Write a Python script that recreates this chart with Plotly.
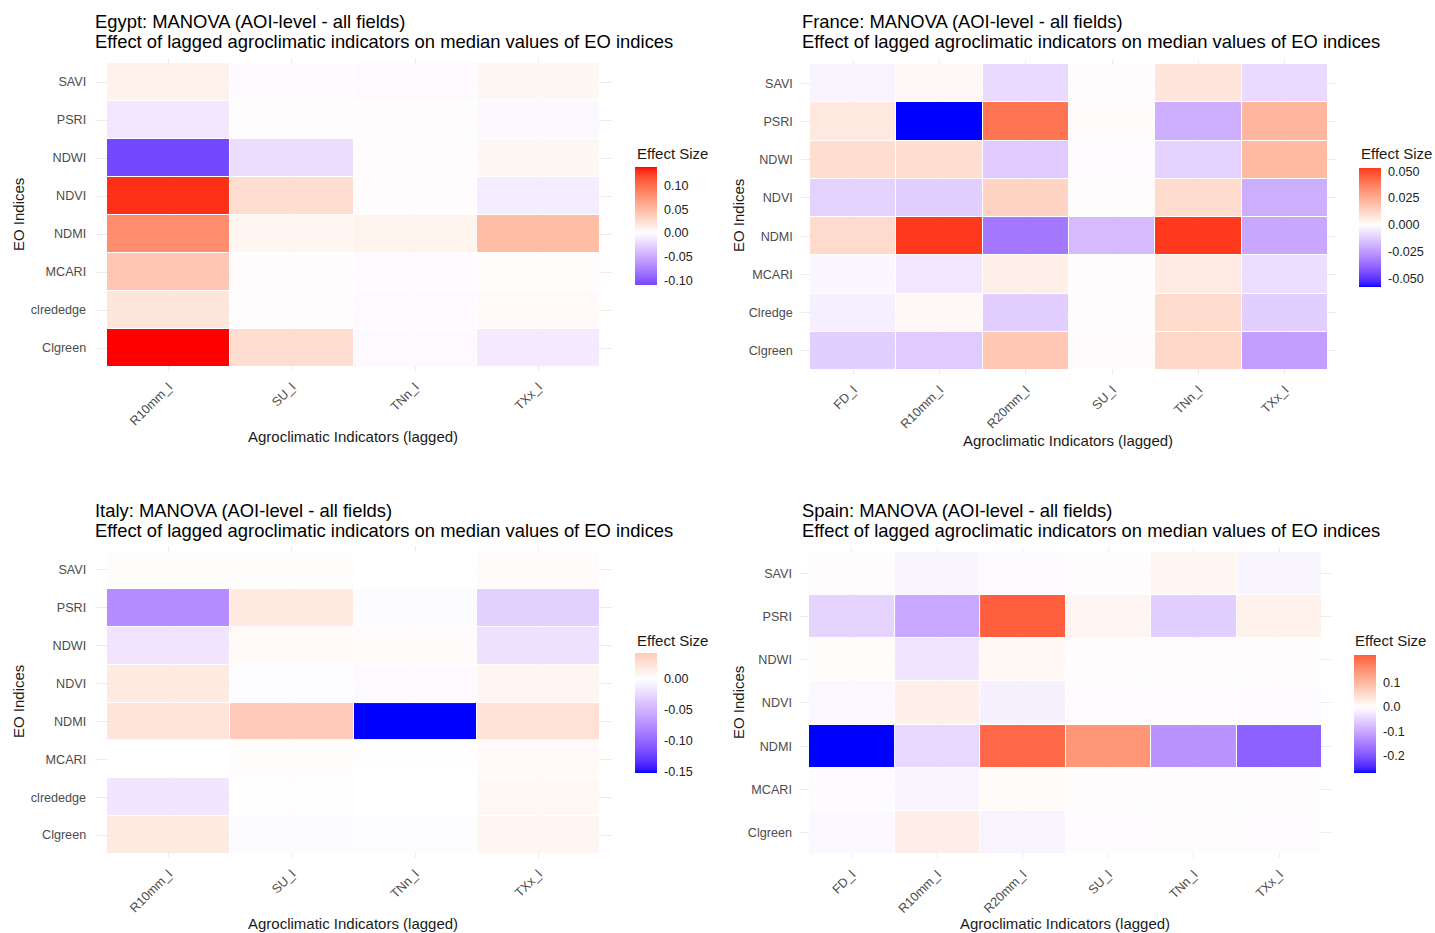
import plotly.graph_objects as go

W, H = 1435, 933

# ---------------- data ----------------
egypt_cols = ["R10mm_l", "SU_l", "TNn_l", "TXx_l"]
egypt_rows = ["SAVI", "PSRI", "NDWI", "NDVI", "NDMI", "MCARI", "clrededge", "Clgreen"]
egypt_vals = [
    [0.010, -0.002, -0.003, 0.006],
    [-0.014, 0.001, 0.000, -0.004],
    [-0.110, -0.020, 0.001, 0.006],
    [0.130, 0.025, 0.001, -0.011],
    [0.081, 0.007, 0.009, 0.048],
    [0.041, 0.000, -0.002, 0.002],
    [0.018, 0.001, -0.003, 0.004],
    [0.139, 0.025, -0.003, -0.012],
]
egypt_ticks = [-0.10, -0.05, 0.00, 0.05, 0.10]

france_cols = ["FD_l", "R10mm_l", "R20mm_l", "SU_l", "TNn_l", "TXx_l"]
france_rows = ["SAVI", "PSRI", "NDWI", "NDVI", "NDMI", "MCARI", "Clredge", "Clgreen"]
france_vals = [
    [-0.003, 0.002, -0.009, 0.000, 0.008, -0.009],
    [0.007, -0.058, 0.040, 0.001, -0.020, 0.022],
    [0.010, 0.010, -0.013, -0.0005, -0.011, 0.021],
    [-0.011, -0.012, 0.013, 0.000, 0.011, -0.020],
    [0.011, 0.053, -0.034, -0.017, 0.053, -0.022],
    [-0.002, -0.006, 0.005, 0.000, 0.006, -0.008],
    [-0.004, 0.002, -0.012, 0.000, 0.011, -0.012],
    [-0.012, -0.013, 0.017, 0.0005, 0.012, -0.024],
]
france_ticks = [-0.050, -0.025, 0.000, 0.025, 0.050]

italy_cols = ["R10mm_l", "SU_l", "TNn_l", "TXx_l"]
italy_rows = ["SAVI", "PSRI", "NDWI", "NDVI", "NDMI", "MCARI", "clrededge", "Clgreen"]
italy_vals = [
    [0.002, 0.002, 0.000, 0.003],
    [-0.075, 0.018, -0.003, -0.031],
    [-0.018, 0.004, 0.003, -0.020],
    [0.017, -0.002, -0.004, 0.008],
    [0.022, 0.042, -0.153, 0.024],
    [0.000, 0.002, 0.001, 0.004],
    [-0.017, 0.001, 0.000, 0.005],
    [0.017, -0.003, -0.002, 0.008],
]
italy_ticks = [-0.15, -0.10, -0.05, 0.00]

spain_cols = ["FD_l", "R10mm_l", "R20mm_l", "SU_l", "TNn_l", "TXx_l"]
spain_rows = ["SAVI", "PSRI", "NDWI", "NDVI", "NDMI", "MCARI", "Clgreen"]
spain_vals = [
    [0.000, -0.012, -0.006, 0.000, 0.013, -0.012],
    [-0.050, -0.100, 0.212, 0.012, -0.055, 0.020],
    [0.004, -0.030, 0.010, 0.001, 0.000, 0.001],
    [-0.008, 0.022, -0.018, -0.001, -0.001, -0.005],
    [-0.270, -0.045, 0.200, 0.145, -0.125, -0.185],
    [-0.005, -0.012, 0.006, 0.001, 0.001, 0.001],
    [-0.008, 0.025, -0.014, -0.001, 0.001, -0.001],
]
spain_ticks = [-0.2, -0.1, 0.0, 0.1]

countries = ["Egypt", "France", "Italy", "Spain"]

# ---------------- colour ramp (ggplot2 gradient2 in Lab space) ----------------
def _lin(c):
    return c / 12.92 if c <= 0.04045 else ((c + 0.055) / 1.055) ** 2.4

def _gam(c):
    c = max(0.0, min(1.0, c))
    return 12.92 * c if c <= 0.0031308 else 1.055 * c ** (1 / 2.4) - 0.055

WX, WY, WZ = 0.95047, 1.0, 1.08883

def rgb_to_lab(rgb):
    r, g, b = [_lin(v / 255) for v in rgb]
    X = 0.4124 * r + 0.3576 * g + 0.1805 * b
    Y = 0.2126 * r + 0.7152 * g + 0.0722 * b
    Z = 0.0193 * r + 0.1192 * g + 0.9505 * b
    def f(t):
        return t ** (1 / 3) if t > 0.008856 else 7.787 * t + 16 / 116
    fx, fy, fz = f(X / WX), f(Y / WY), f(Z / WZ)
    return (116 * fy - 16, 500 * (fx - fy), 200 * (fy - fz))

def lab_to_rgb(lab):
    L, a, b = lab
    fy = (L + 16) / 116
    fx = fy + a / 500
    fz = fy - b / 200
    def finv(t):
        return t ** 3 if t ** 3 > 0.008856 else (t - 16 / 116) / 7.787
    X, Y, Z = WX * finv(fx), WY * finv(fy), WZ * finv(fz)
    r = 3.2406 * X - 1.5372 * Y - 0.4986 * Z
    g = -0.9689 * X + 1.8758 * Y + 0.0415 * Z
    bb = 0.0557 * X - 0.2040 * Y + 1.0570 * Z
    return tuple(int(round(_gam(c) * 255)) for c in (r, g, bb))

LOW = rgb_to_lab((0, 0, 255))
MID = rgb_to_lab((255, 255, 255))
HIGH = rgb_to_lab((255, 0, 0))

def ramp(r):
    r = max(0.0, min(1.0, r))
    if r < 0.5:
        t = r / 0.5
        a, b = LOW, MID
    else:
        t = (r - 0.5) / 0.5
        a, b = MID, HIGH
    lab = tuple(a[i] + (b[i] - a[i]) * t for i in range(3))
    return "rgb(%d,%d,%d)" % lab_to_rgb(lab)

def make_scale(zmin, zmax, n=61):
    M = max(abs(zmin), abs(zmax))
    out = []
    for i in range(n):
        s = i / (n - 1)
        v = zmin + s * (zmax - zmin)
        out.append([s, ramp(v / (2 * M) + 0.5)])
    return out

# ---------------- layout geometry (pixels) ----------------
FONT = "Liberation Sans, Arial, sans-serif"
TITLE_SIZE = 18.4
AXTITLE_SIZE = 15
TICK_SIZE = 12.6
geo = {
    "Egypt": dict(tx=(107, 600), ty=(63, 367), cb=(635, 167, 285), cbt=(635, 153),
                  title=(93, 22), xt=(353, 436), yt=(18, 215)),
    "France": dict(tx=(810, 1328), ty=(64, 370), cb=(1359, 168, 287), cbt=(1359, 153),
                   title=(800, 22), xt=(1068, 440), yt=(738, 215)),
    "Italy": dict(tx=(107, 600), ty=(551, 854), cb=(635, 653, 773), cbt=(635, 640),
                  title=(93, 510), xt=(353, 923), yt=(18, 702)),
    "Spain": dict(tx=(809, 1322), ty=(552, 854), cb=(1354, 655, 773), cbt=(1353, 640),
                  title=(800, 510), xt=(1065, 923), yt=(738, 702)),
}
data = {
    "Egypt": (egypt_cols, egypt_rows, egypt_vals, egypt_ticks, 2),
    "France": (france_cols, france_rows, france_vals, france_ticks, 3),
    "Italy": (italy_cols, italy_rows, italy_vals, italy_ticks, 2),
    "Spain": (spain_cols, spain_rows, spain_vals, spain_ticks, 1),
}

fig = go.Figure()
annotations = []
layout_axes = {}

for i, name in enumerate(countries, start=1):
    cols, rows, vals, ticks, dec = data[name]
    g = geo[name]
    nc, nr = len(cols), len(rows)
    cw = (g["tx"][1] - g["tx"][0]) / nc
    rh = (g["ty"][1] - g["ty"][0]) / nr
    px0, px1 = g["tx"][0] - 0.1 * cw, g["tx"][1] + 0.1 * cw
    py0, py1 = g["ty"][0] - 0.1 * rh, g["ty"][1] + 0.1 * rh

    flat = [v for r in vals for v in r]
    zmin, zmax = min(flat), max(flat)

    xa = "x" if i == 1 else "x%d" % i
    ya = "y" if i == 1 else "y%d" % i
    cbx, cby0, cby1 = g["cb"]

    fig.add_trace(go.Heatmap(
        x=cols, y=rows, z=vals, xaxis=xa, yaxis=ya,
        zmin=zmin, zmax=zmax, colorscale=make_scale(zmin, zmax),
        xgap=1, ygap=1, hoverongaps=False,
        colorbar=dict(
            x=cbx / W, xanchor="left", y=1 - cby0 / H, yanchor="top",
            len=cby1 - cby0, lenmode="pixels", thickness=22, thicknessmode="pixels",
            xpad=0, ypad=0, outlinewidth=0,
            tickvals=ticks, ticktext=[("%." + str(dec) + "f") % t for t in ticks],
            ticks="outside", ticklen=5, tickcolor="rgba(0,0,0,0)", tickwidth=1,
            tickfont=dict(family=FONT, size=TICK_SIZE, color="#222222"),
        ),
    ))

    xkey = "xaxis" if i == 1 else "xaxis%d" % i
    ykey = "yaxis" if i == 1 else "yaxis%d" % i
    layout_axes[xkey] = dict(
        domain=[px0 / W, px1 / W], anchor=ya, type="category",
        categoryorder="array", categoryarray=cols,
        range=[-0.6, nc - 0.4], showgrid=True, gridcolor="#EBEBEB", gridwidth=1.1,
        zeroline=False, showline=False, ticks="outside", ticklen=3,
        tickcolor="rgba(0,0,0,0)", tickangle=-45,
        tickfont=dict(family=FONT, size=TICK_SIZE, color="#4D4D4D"), fixedrange=True,
    )
    layout_axes[ykey] = dict(
        domain=[1 - py1 / H, 1 - py0 / H], anchor=xa, type="category",
        categoryorder="array", categoryarray=rows,
        range=[nr - 0.4, -0.6], showgrid=True, gridcolor="#EBEBEB", gridwidth=1.1,
        zeroline=False, showline=False, ticks="outside", ticklen=5,
        tickcolor="rgba(0,0,0,0)",
        tickfont=dict(family=FONT, size=TICK_SIZE, color="#4D4D4D"), fixedrange=True,
    )

    tx, ty = g["title"]
    annotations.append(dict(
        text="%s: MANOVA (AOI-level - all fields)" % name,
        x=tx / W, y=1 - ty / H, xref="paper", yref="paper",
        xanchor="left", yanchor="middle", showarrow=False,
        font=dict(family=FONT, size=TITLE_SIZE, color="black")))
    annotations.append(dict(
        text="Effect of lagged agroclimatic indicators on median values of EO indices",
        x=tx / W, y=1 - (ty + 20) / H, xref="paper", yref="paper",
        xanchor="left", yanchor="middle", showarrow=False,
        font=dict(family=FONT, size=TITLE_SIZE, color="black")))
    xtx, xty = g["xt"]
    annotations.append(dict(
        text="Agroclimatic Indicators (lagged)", x=xtx / W, y=1 - xty / H,
        xref="paper", yref="paper", xanchor="center", yanchor="middle",
        showarrow=False, font=dict(family=FONT, size=AXTITLE_SIZE, color="#1a1a1a")))
    ytx, yty = g["yt"]
    annotations.append(dict(
        text="EO Indices", x=ytx / W, y=1 - yty / H, textangle=-90,
        xref="paper", yref="paper", xanchor="center", yanchor="middle",
        showarrow=False, font=dict(family=FONT, size=AXTITLE_SIZE, color="#1a1a1a")))
    cx, cy = g["cbt"]
    annotations.append(dict(
        text="Effect Size", x=cx / W, y=1 - cy / H,
        xref="paper", yref="paper", xanchor="left", yanchor="middle",
        showarrow=False, font=dict(family=FONT, size=AXTITLE_SIZE, color="#1a1a1a")))

fig.update_layout(
    width=W, height=H, autosize=False,
    margin=dict(l=0, r=0, t=0, b=0),
    paper_bgcolor="white", plot_bgcolor="white",
    font=dict(family=FONT),
    annotations=annotations,
    **layout_axes,
)

fig.write_html(
    "out.html",
    config={"displayModeBar": False},
    post_script="document.body.style.margin='0';document.body.style.overflow='hidden';",
)
